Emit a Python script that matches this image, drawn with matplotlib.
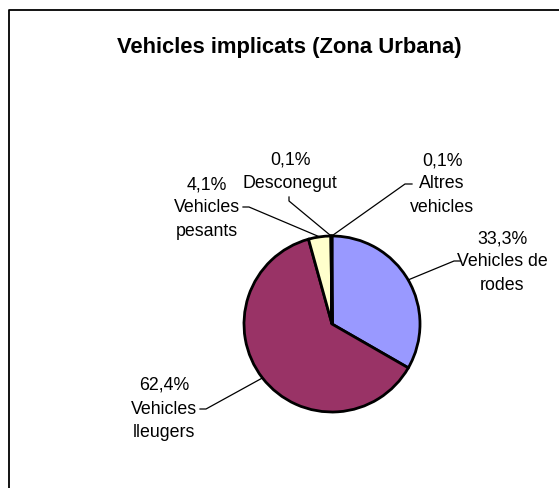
import matplotlib
matplotlib.use("Agg")
import matplotlib.pyplot as plt
import numpy as np

plt.rcParams['font.family'] = ['Liberation Sans', 'DejaVu Sans']

title = "Vehicles implicats (Zona Urbana)"
categories = ["Vehicles de\nrodes", "Vehicles\nlleugers", "Vehicles\npesants",
              "Desconegut", "Altres\nvehicles"]
values = [33.3, 62.4, 4.1, 0.1, 0.1]
pct_labels = ["33,3%", "62,4%", "4,1%", "0,1%", "0,1%"]
colors = ["#9999FF", "#993366", "#FFFFCC", "#CCFFFF", "#660066"]

W, H = 559, 489
fig = plt.figure(figsize=(W / 100, H / 100), dpi=100)
ax = fig.add_axes([0, 0, 1, 1])

cx, cy, r = 332, 325, 88
# y axis inverted: counterclock=True in data coords appears clockwise on screen
wedges, _ = ax.pie(values, colors=colors, startangle=-90, counterclock=True,
                   center=(cx, cy), radius=r, frame=True,
                   wedgeprops=dict(edgecolor='black', linewidth=2.0))
ax.set_xlim(0, W)
ax.set_ylim(H, 0)
ax.set_aspect('equal')
ax.axis('off')

# outer border (extends beyond right/bottom edges)
ax.plot([8.5, 8.5, W + 5], [H + 5, 10.5, 10.5], color='black', lw=1.3,
        solid_capstyle='butt')

ax.text(289, 47, title, ha='center', va='center', fontsize=15.8,
        fontweight='bold')

# label block positions (pixel layout) and leader knee points
label_pos = [(502, 262), (164, 409), (207, 208), (290, 172), (442, 184)]
leader_start = [[(460, 262), (454, 262)], [(200, 410), (206, 410)],
                [(243, 208), (249, 208)], [(289, 198), (289, 202)],
                [(412, 185), (405, 185)]]

for w, pct, cat, (lx, ly), ls in zip(wedges, pct_labels, categories,
                                     label_pos, leader_start):
    mid = np.deg2rad((w.theta1 + w.theta2) / 2)
    px = cx + r * np.cos(mid)
    py = cy + r * np.sin(mid)
    xs = [p[0] for p in ls] + [px]
    ys = [p[1] for p in ls] + [py]
    ax.plot(xs, ys, color='black', lw=0.9)
    ax.text(lx, ly, pct + "\n" + cat, ha='center', va='center',
            fontsize=12.8, linespacing=1.5)

fig.savefig("out.png", dpi=100)
